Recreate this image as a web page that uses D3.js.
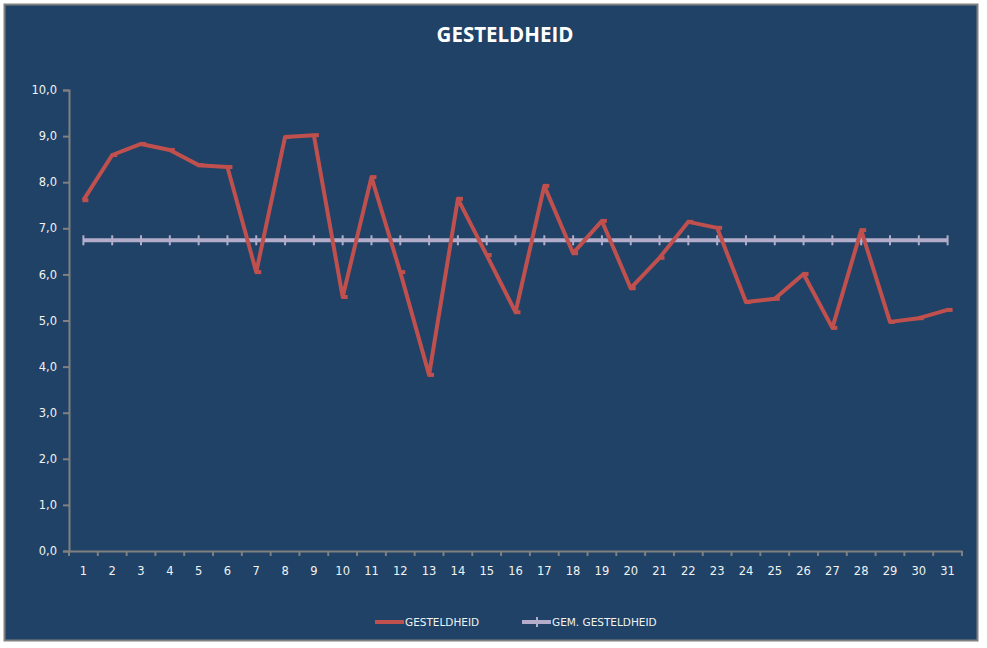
<!DOCTYPE html>
<html>
<head>
  <title>Gesteldheid</title>
  <script src="https://cdn.jsdelivr.net/npm/d3@7"></script>
  <style>
    body { margin: 0; background: #fff; }
    text { font-family: "DejaVu Sans", Verdana, sans-serif; }
  </style>
</head>
<body>
  <svg width="987" height="648" id="mainsvg" style="display: block;"></svg>
  <script>
    const days = d3.range(1, 32).map(String);
    const gesteldheid = [7.61, 8.59, 8.83, 8.70, 8.37, 8.33, 6.05, 8.98, 9.02, 5.51,
      8.11, 6.05, 3.82, 7.64, 6.42, 5.18, 7.92, 6.46, 7.16, 5.70,
      6.36, 7.14, 7.01, 5.40, 5.47, 6.01, 4.84, 6.96, 4.97, 5.05, 5.23];
    const gemGesteldheid = [6.74, 6.74, 6.74, 6.74, 6.74, 6.74, 6.74, 6.74, 6.74, 6.74,
      6.74, 6.74, 6.74, 6.74, 6.74, 6.74, 6.74, 6.74, 6.74, 6.74,
      6.74, 6.74, 6.74, 6.74, 6.74, 6.74, 6.74, 6.74, 6.74, 6.74, 6.74];
    const yTicks = [0, 1, 2, 3, 4, 5, 6, 7, 8, 9, 10];

    const svg = d3.select('#mainsvg');
    const bg = '#1F4266';
    const red = '#C0504D';
    const lav = '#B3ACCA';
    const axisCol = '#808080';
    const txtCol = '#F2F2F2';

    // chart frame
    svg.append('rect')
      .attr('x', 4.5).attr('y', 4.5).attr('width', 973).attr('height', 636)
      .attr('fill', bg).attr('stroke', axisCol).attr('stroke-width', 2);

    svg.append('text')
      .attr('x', 505).attr('y', 42)
      .attr('text-anchor', 'middle')
      .attr('fill', '#fff')
      .attr('font-size', 20.5).attr('font-weight', 'bold')
      .style('font-family', '"Open Sans", sans-serif')
      .text('GESTELDHEID');

    const x = d3.scaleBand().domain(days).range([69, 962]);
    const y = d3.scaleLinear().domain([0, 10]).range([551, 90]);
    const cx = d => x(d) + x.bandwidth() / 2;

    // y axis
    const yAxis = svg.append('g')
      .attr('transform', 'translate(69,0)')
      .call(d3.axisLeft(y).tickValues(yTicks).tickSize(6).tickPadding(6)
        .tickFormat(d => d3.format('.1f')(d).replace('.', ',')));
    yAxis.select('.domain').attr('stroke', axisCol).attr('stroke-width', 2);
    yAxis.selectAll('.tick line').attr('stroke', axisCol).attr('stroke-width', 2);
    yAxis.selectAll('.tick text').attr('fill', txtCol).attr('font-size', 11.5)
      .style('font-family', '"DejaVu Sans", sans-serif');

    // x axis
    const xAxis = svg.append('g')
      .attr('transform', 'translate(0,551)')
      .call(d3.axisBottom(x).tickSize(0).tickPadding(16));
    xAxis.select('.domain').attr('stroke', axisCol).attr('stroke-width', 2);
    xAxis.selectAll('.tick text').attr('fill', txtCol).attr('font-size', 11.5)
      .style('font-family', '"DejaVu Sans", sans-serif');
    xAxis.selectAll('.bt')
      .data(days.concat(['end']))
      .join('line')
      .attr('class', 'bt')
      .attr('x1', d => d === 'end' ? x.range()[1] : x(d))
      .attr('x2', d => d === 'end' ? x.range()[1] : x(d))
      .attr('y1', 0).attr('y2', 5)
      .attr('stroke', axisCol).attr('stroke-width', 2);

    const line = d3.line().x((d, i) => cx(days[i])).y(d => y(d));

    // average line
    svg.append('path')
      .datum(gemGesteldheid)
      .attr('d', line)
      .attr('fill', 'none').attr('stroke', lav).attr('stroke-width', 4);
    svg.selectAll('.avgmark')
      .data(gemGesteldheid)
      .join('line')
      .attr('class', 'avgmark')
      .attr('x1', (d, i) => cx(days[i])).attr('x2', (d, i) => cx(days[i]))
      .attr('y1', d => y(d) - 5).attr('y2', d => y(d) + 5)
      .attr('stroke', lav).attr('stroke-width', 2);

    // main series
    svg.append('path')
      .datum(gesteldheid)
      .attr('d', line)
      .attr('fill', 'none').attr('stroke', red).attr('stroke-width', 4)
      .attr('stroke-linejoin', 'round');
    svg.selectAll('.redmark')
      .data(gesteldheid)
      .join('rect')
      .attr('class', 'redmark')
      .attr('x', (d, i) => cx(days[i]) - 1).attr('y', d => y(d) - 2)
      .attr('width', 6).attr('height', 4)
      .attr('fill', red);

    // legend
    const leg = svg.append('g').attr('font-size', 10.5).attr('fill', txtCol);
    leg.append('line').attr('x1', 375).attr('x2', 404).attr('y1', 622).attr('y2', 622)
      .attr('stroke', red).attr('stroke-width', 4);
    leg.append('text').attr('x', 405).attr('y', 626).text('GESTELDHEID')
      .style('font-family', '"DejaVu Sans", sans-serif').attr('fill', txtCol);
    leg.append('line').attr('x1', 522).attr('x2', 551).attr('y1', 622).attr('y2', 622)
      .attr('stroke', lav).attr('stroke-width', 4);
    leg.append('line').attr('x1', 537).attr('x2', 537).attr('y1', 617).attr('y2', 627)
      .attr('stroke', lav).attr('stroke-width', 2);
    leg.append('text').attr('x', 552).attr('y', 626).text('GEM. GESTELDHEID')
      .style('font-family', '"DejaVu Sans", sans-serif').attr('fill', txtCol);
  </script>
</body>
</html>
